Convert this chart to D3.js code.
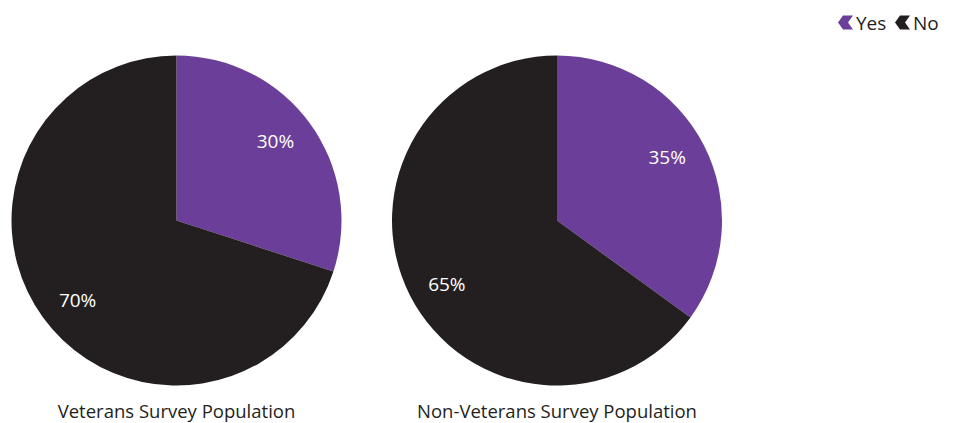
<!DOCTYPE html>
<html><head><meta charset="utf-8">
<script src="https://cdn.jsdelivr.net/npm/d3@7"></script>
<style>body{margin:0;background:#fff}svg{display:block}text{font-family:"Open Sans",Lato,sans-serif}</style>
</head><body><svg id="c" width="959" height="423"></svg>
<script>
const categories = ["Yes", "No"];
const chartTitles = ["Veterans Survey Population", "Non-Veterans Survey Population"];
const veteransValues = [30, 70];
const nonVeteransValues = [35, 65];
const colors = ["#6B3F99", "#231F20"];

const svg = d3.select("#c");
const R = 165;
const centers = [176.5, 557];
const cy = 220.5;
const color = d3.scaleOrdinal().domain(categories).range(colors);
const pie = d3.pie().sort(null).value(d => d.v);
const arc = d3.arc().innerRadius(0).outerRadius(R);
const LR = 127;

[veteransValues, nonVeteransValues].forEach((vals, i) => {
  const data = categories.map((c, j) => ({c, v: vals[j]}));
  const g = svg.append("g").attr("transform", `translate(${centers[i]},${cy})`);
  const arcs = pie(data);
  g.selectAll("path").data(arcs).join("path")
    .attr("d", arc).attr("fill", d => color(d.data.c));
  g.selectAll("text.lbl").data(arcs).join("text").attr("class","lbl")
    .attr("transform", d => {
      const a = (d.startAngle + d.endAngle) / 2 - 0.05;
      return `translate(${LR*Math.sin(a)},${-LR*Math.cos(a)})`;
    })
    .attr("text-anchor", "middle").attr("dy", "0.36em")
    .attr("fill", "#fff").attr("font-size", 19)
    .text(d => d.data.v + "%");
  svg.append("text").attr("x", centers[i]).attr("y", 418)
    .attr("text-anchor", "middle").attr("font-size", 18.5)
    .attr("fill", "#231F20")
    .text(chartTitles[i]);
});

// legend
const chevron = "M0,7 L5,0 L15,0 L10,7 L15,14 L5,14 Z";
const leg = svg.append("g").attr("transform", "translate(838,15.5)");
const legX = [0, 57];
categories.forEach((c, j) => {
  const lg = leg.append("g").attr("transform", `translate(${legX[j]},0)`);
  lg.append("path").attr("d", chevron).attr("fill", color(c));
  lg.append("text").attr("x", 18).attr("y", 14).attr("font-size", 19)
    .attr("fill", "#231F20").text(c);
});
</script></body></html>
